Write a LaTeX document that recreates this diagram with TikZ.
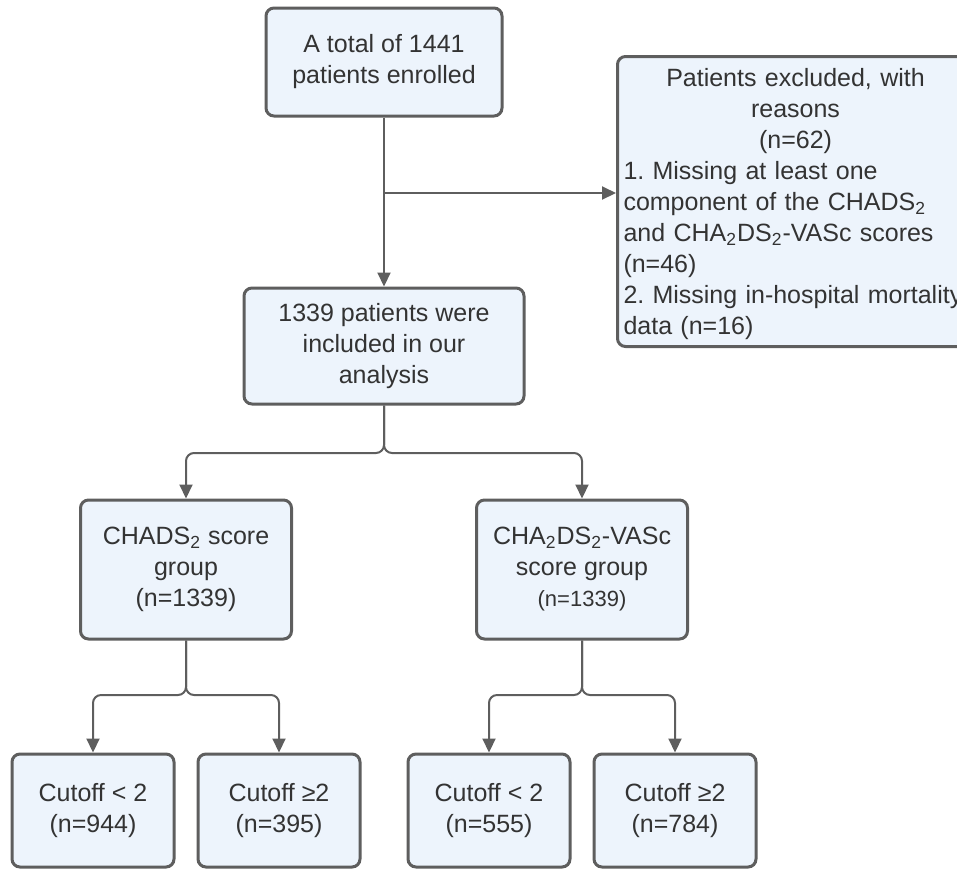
\documentclass[tikz,border=0pt]{standalone}
\usepackage{fontspec}
\setmainfont{Liberation Sans}
\usetikzlibrary{arrows.meta}
\definecolor{boxfill}{HTML}{EDF4FC}
\definecolor{boxline}{HTML}{5E5E5E}
\definecolor{txtgray}{HTML}{333333}
\newcommand{\tsub}[1]{\textsubscript{#1}}
\newcommand{\itemno}[1]{\makebox[14.5pt][l]{#1}}
\tikzstyle{bx} = [draw=boxline, line width=1.5pt, fill=boxfill, rounded corners=4pt, align=center, text=txtgray, inner sep=2pt, font=\fontsize{12.5}{15.5}\selectfont]
\tikzstyle{arr} = [style={-{Triangle[length=7pt,width=6.5pt]}, draw=boxline, line width=1pt, rounded corners=4pt}]

\begin{document}
\begin{tikzpicture}[x=0.5pt,y=-0.5pt]
        \useasboundingbox (0,0) rectangle (957,869);
        \clip (0,0) rectangle (957,869);
        \node[bx, minimum width=118pt, minimum height=54pt] (enrol) at (384,62) {A total of 1441\\patients enrolled};
        \node[bx, minimum width=140pt, minimum height=58pt] (incl) at (384,346) {1339 patients were\\included in our\\analysis};
        \node[bx, anchor=north west, minimum height=145pt, text width=172pt, align=left, inner xsep=3pt] (excl) at (616,55) {\rule{0pt}{12pt}{\centering Patients excluded, with\\reasons\\(n=62)\par}
          \itemno{1.}Missing at least one\\component of the CHADS\tsub{2}\\and CHA\tsub{2}DS\tsub{2}-VASc scores\\(n=46)\\\itemno{2.}Missing in-hospital mortality\\data (n=16)};
        \node[bx, minimum width=105.5pt, minimum height=69.5pt] (chads) at (186,569.5) {CHADS\tsub{2} score\\group\\(n=1339)};
        \node[bx, minimum width=105.5pt, minimum height=69.5pt] (vasc) at (582,569.5) {CHA\tsub{2}DS\tsub{2}-VASc\\score group\\{\fontsize{11}{15.5}\selectfont (n=1339)}};
        \node[bx, minimum width=81pt, minimum height=56.5pt] (chadslo) at (93,810.5) {Cutoff < 2\\(n=944)};
        \node[bx, minimum width=81pt, minimum height=56.5pt] (chadshi) at (279,810.5) {Cutoff ≥2\\(n=395)};
        \node[bx, minimum width=81pt, minimum height=56.5pt] (vasclo) at (489,810.5) {Cutoff < 2\\(n=555)};
        \node[bx, minimum width=81pt, minimum height=56.5pt] (vaschi) at (675,810.5) {Cutoff ≥2\\(n=784)};
        \coordinate (fork0) at (384,193);
        \coordinate (fork1) at (384,453);
        \coordinate (fork2) at (186,695);
        \coordinate (fork3) at (582,695);
        \draw[arr] (enrol.south) -- (incl.north);
        \draw[arr] (fork0) -- (excl.west |- fork0);
        \draw[arr] (incl.south) -- (fork1) -| (chads.north);
        \draw[arr] (incl.south) -- (fork1) -| (vasc.north);
        \draw[arr] (chads.south) -- (fork2) -| (chadslo.north);
        \draw[arr] (chads.south) -- (fork2) -| (chadshi.north);
        \draw[arr] (vasc.south) -- (fork3) -| (vasclo.north);
        \draw[arr] (vasc.south) -- (fork3) -| (vaschi.north);
      \end{tikzpicture}
\end{document}
